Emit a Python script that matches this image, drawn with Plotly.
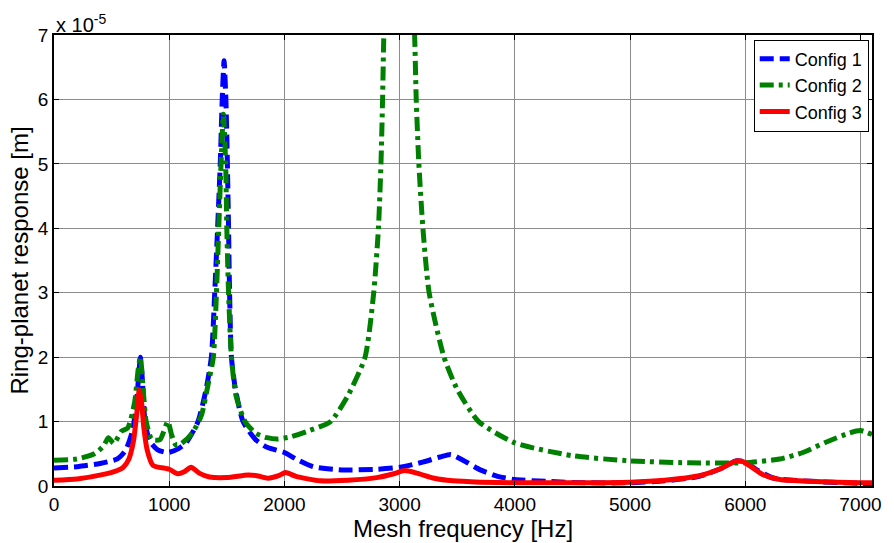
import plotly.graph_objects as go

# Config 1 (blue, dashed)
f1 = [0, 200, 400, 550, 620, 680, 710, 735, 750, 765, 790, 830, 900, 990, 1080, 1150, 1250,
      1320, 1366, 1395, 1420, 1443, 1460, 1476, 1492, 1505, 1515, 1524, 1540, 1575, 1641,
      1750, 1850, 2000, 2100, 2250, 2500, 2800, 3000, 3200, 3350, 3445, 3550, 3700, 3850,
      4000, 4300, 4600, 5000, 5300, 5600, 5800, 5920, 6000, 6100, 6250, 6500, 7000, 7100]
r1 = [0.28, 0.30, 0.35, 0.42, 0.55, 0.85, 1.2, 1.7, 2.0, 1.7, 1.0, 0.7, 0.56, 0.52, 0.58, 0.68, 1.0,
      1.5, 2.0, 3.0, 4.0, 5.0, 6.0, 6.6, 6.0, 5.0, 4.0, 3.0, 2.0, 1.5, 1.0,
      0.72, 0.6, 0.52, 0.42, 0.3, 0.25, 0.26, 0.29, 0.37, 0.45, 0.49, 0.4, 0.25, 0.15,
      0.1, 0.07, 0.05, 0.05, 0.08, 0.15, 0.28, 0.39, 0.37, 0.25, 0.12, 0.08, 0.04, 0.04]

# Config 2 (green, dash-dot)
f2 = [0, 200, 350, 430, 472, 520, 585, 640, 700, 730, 750, 770, 800, 850, 920, 988, 1020,
      1057, 1100, 1200, 1280, 1340, 1383, 1410, 1430, 1450, 1470, 1490, 1500, 1515, 1540,
      1580, 1658, 1750, 1850, 1940, 2050, 2200, 2400, 2550, 2700, 2775, 2816, 2838, 2852,
      2866, 2920, 3000, 3080, 3130, 3144, 3167, 3202, 3256, 3385, 3500, 3686, 4000, 4500,
      5000, 5500, 6000, 6300, 6500, 6700, 6900, 7000, 7100]
r2 = [0.40, 0.42, 0.5, 0.62, 0.75, 0.66, 0.85, 0.9, 1.3, 1.8, 2.0, 1.6, 1.0, 0.72, 0.72, 1.0, 0.8,
      0.64, 0.65, 0.82, 1.1, 1.6, 2.0, 3.0, 4.0, 5.0, 5.77, 5.0, 4.0, 3.0, 2.0,
      1.4, 1.0, 0.82, 0.75, 0.73, 0.76, 0.85, 1.0, 1.4, 2.0, 3.0, 4.0, 5.0, 6.0,
      7.2, 9.0, 11.0, 9.0, 7.0, 6.0, 5.0, 4.0, 3.0, 2.0, 1.5, 1.0, 0.67, 0.47,
      0.39, 0.36, 0.36, 0.42, 0.52, 0.68, 0.82, 0.86, 0.80]

# Config 3 (red, solid)
f3 = [0, 200, 430, 550, 601, 650, 690, 720, 740, 760, 780, 810, 859, 1000, 1074, 1130, 1190,
      1260, 1349, 1500, 1684, 1760, 1856, 1950, 2010, 2100, 2311, 2550, 2800, 2950, 3040,
      3150, 3300, 3462, 3700, 4000, 4500, 5000, 5300, 5600, 5800, 5920, 5980, 6050, 6150,
      6300, 6600, 7000, 7100]
r3 = [0.09, 0.11, 0.18, 0.24, 0.29, 0.42, 0.7, 1.15, 1.49, 1.3, 0.9, 0.55, 0.32, 0.26, 0.19, 0.22, 0.29,
      0.2, 0.14, 0.13, 0.17, 0.16, 0.12, 0.16, 0.21, 0.15, 0.08, 0.09, 0.13, 0.19, 0.24,
      0.2, 0.12, 0.08, 0.06, 0.05, 0.05, 0.06, 0.09, 0.16, 0.28, 0.39, 0.38, 0.3, 0.18,
      0.1, 0.07, 0.05, 0.05]

x_ticks = [0, 1000, 2000, 3000, 4000, 5000, 6000, 7000]
y_ticks = [0, 1, 2, 3, 4, 5, 6, 7]

FONT = "Arial, Liberation Sans"

fig = go.Figure()
fig.add_trace(go.Scatter(x=f1, y=r1, name="Config 1", mode="lines",
                         line=dict(color="rgb(0,0,255)", width=5, dash="14px,6px",
                                   shape="spline", smoothing=0.6)))
fig.add_trace(go.Scatter(x=f2, y=r2, name="Config 2", mode="lines",
                         line=dict(color="rgb(0,128,0)", width=5, dash="14px,5px,4px,5px",
                                   shape="spline", smoothing=0.6)))
fig.add_trace(go.Scatter(x=f3, y=r3, name="Config 3", mode="lines",
                         line=dict(color="rgb(255,0,0)", width=5,
                                   shape="spline", smoothing=0.6)))

axis_common = dict(
    showline=True, linecolor="black", linewidth=1.5, mirror="allticks",
    ticks="inside", ticklen=5, tickcolor="black",
    showgrid=True, gridcolor="rgb(140,140,140)", gridwidth=1,
    zeroline=False,
    tickfont=dict(family=FONT, size=19, color="black"),
)

fig.update_layout(
    width=894, height=543,
    margin=dict(l=54, r=14, t=35, b=54),
    plot_bgcolor="white", paper_bgcolor="white",
    font=dict(family=FONT, color="black"),
    xaxis=dict(range=[0, 7100], tickvals=x_ticks, ticktext=[str(v) for v in x_ticks],
               title=dict(text="Mesh frequency [Hz]", font=dict(size=24, family=FONT), standoff=0),
               **axis_common),
    yaxis=dict(range=[0, 7], tickvals=y_ticks, ticktext=[str(v) for v in y_ticks],
               title=dict(text="Ring-planet response [m]", font=dict(size=24, family=FONT), standoff=2),
               **axis_common),
    legend=dict(x=0.996, y=0.99, xanchor="right", yanchor="top",
                bgcolor="white", bordercolor="black", borderwidth=1,
                font=dict(size=18, family=FONT),
                tracegroupgap=0, itemwidth=30),
    showlegend=True,
    annotations=[dict(text="x 10<sup>-5</sup>", xref="paper", yref="paper",
                      x=0.0, y=1.0, xanchor="left", yanchor="bottom", yshift=-3,
                      showarrow=False, font=dict(size=20, family=FONT))],
)

fig.write_html("out.html")
